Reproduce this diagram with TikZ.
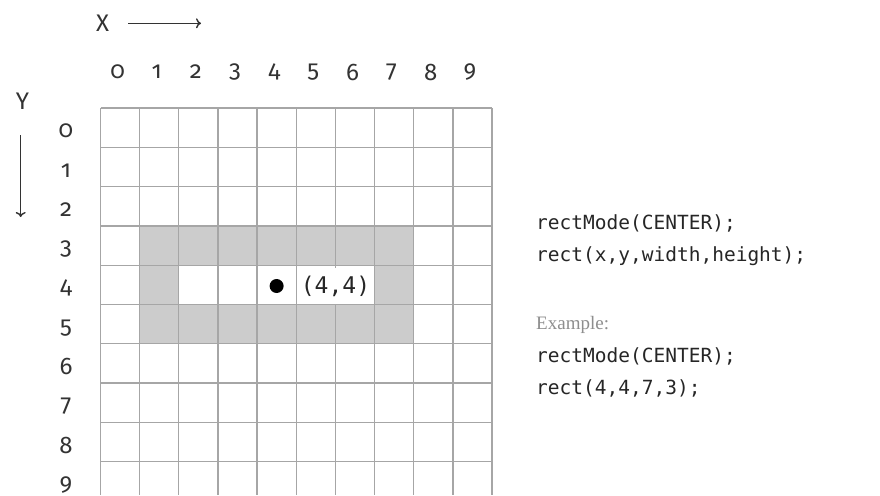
\documentclass[tikz,border=0pt]{standalone}
\usepackage{fontspec}
\setmainfont{Fira Sans}[Numbers=OldStyle]
\newfontfamily\codefont{DejaVu Sans Mono}
\newfontfamily\exfont{Liberation Serif}
\usetikzlibrary{arrows.meta}
\definecolor{gridc}{HTML}{A6A6A6}
\definecolor{fillc}{HTML}{CCCCCC}
\definecolor{txt}{HTML}{333333}
\definecolor{codec}{HTML}{262626}
\definecolor{exc}{HTML}{8E8E8E}
\begin{document}
\begin{tikzpicture}[x=1pt,y=-1pt,
  lbl/.style={font=\fontsize{24}{26}\selectfont, text=txt, inner sep=0, anchor=center},
  axlbl/.style={font=\fontsize{24}{26}\selectfont, text=txt, inner sep=0},
  code/.style={font=\codefont\fontsize{19.5}{22}\selectfont, text=codec, inner sep=0, anchor=base west},
  exlbl/.style={font=\exfont\fontsize{19}{22}\selectfont, text=exc, inner sep=0, anchor=base west},
  axarrow/.style={draw=txt, line width=1.4pt, -{To[length=5pt,width=10pt]}},
  gridline/.style={draw=gridc, line width=1.3pt}]
\useasboundingbox (0,0) rectangle (880,495);
\fill[white] (0,0) rectangle (880,495);
\def\cw{39.15}\def\ch{39.3}\def\gx{100.5}\def\gy{108}
% filled rectangle (outline of rect(4,4,7,3))
\fill[fillc] ({\gx+\cw},{\gy+3*\ch}) rectangle ({\gx+8*\cw},{\gy+6*\ch});
\fill[white] ({\gx+2*\cw},{\gy+4*\ch}) rectangle ({\gx+7*\cw},{\gy+5*\ch});
% grid
\foreach \i in {0,...,10} {
  \draw[gridline] ({\gx+\i*\cw},\gy) -- ({\gx+\i*\cw},495);
}
\foreach \i in {0,...,9} {
  \draw[gridline] (\gx,{\gy+\i*\ch}) -- ({\gx+10*\cw},{\gy+\i*\ch});
}
% column and row labels
\foreach \i in {0,...,9} {
  \node[lbl] (cx\i) at ({\gx+(\i+0.5)*\cw-2.5},72) {\i};
  \node[lbl] (ry\i) at (66,{\gy+(\i+0.5)*\ch+3.5}) {\i};
}
% axes
\node[axlbl] (xl) at (102.5,23.5) {X};
\coordinate (xs) at (128,23.3);
\coordinate (xe) at (201,23.3);
\draw[axarrow] (xs) -- (xe);
\node[axlbl] (yl) at (22.5,101.5) {Y};
\coordinate (ys) at (20.7,135);
\coordinate (ye) at (20.7,217);
\draw[axarrow] (ys) -- (ye);
% centre point
\node[circle, fill=black, minimum size=14pt, inner sep=0] (pt) at (276.6,286) {};
\node[fill=white, minimum width=75pt, minimum height=36pt, inner sep=0,
      font=\codefont\fontsize{23}{25}\selectfont, text=codec] (ptl) at (335.5,286) {(4,4)};
% code
\node[code] (c1) at (536,229) {rectMode(CENTER);};
\node[code] (c2) at (536,261) {rect(x,y,width,height);};
\node[exlbl] (ex) at (536,329) {Example:};
\node[code] (c3) at (536,362) {rectMode(CENTER);};
\node[code] (c4) at (536,394) {rect(4,4,7,3);};
\end{tikzpicture}
\end{document}
